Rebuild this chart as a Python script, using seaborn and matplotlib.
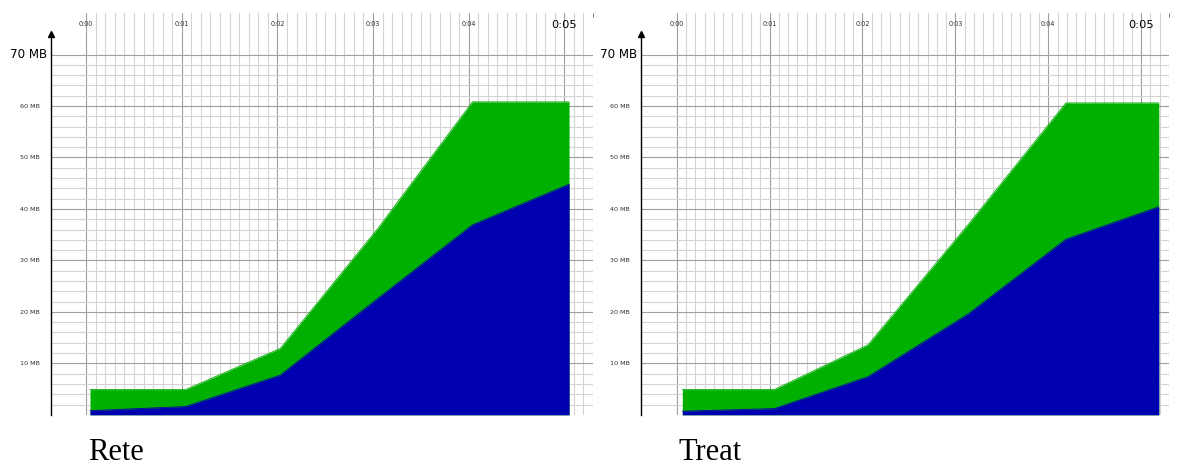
import numpy as np
import pandas as pd
import seaborn as sns
import matplotlib.pyplot as plt

# memory samples (seconds, MB)
rete_time = [0.04, 1.04, 2.03, 3.05, 4.04, 5.05]
rete_blue = [0.8, 1.6, 7.7, 22.6, 36.9, 44.8]
rete_total = [4.9, 4.9, 12.9, 36.2, 60.8, 60.8]

treat_time = [0.06, 1.05, 2.06, 3.14, 4.19, 5.19]
treat_blue = [0.7, 1.2, 7.4, 19.6, 34.1, 40.4]
treat_total = [4.9, 4.9, 13.6, 37.0, 60.6, 60.6]

time_labels = ['0:00', '0:01', '0:02', '0:03', '0:04', '0:05']
mb_ticks = [10, 20, 30, 40, 50, 60]

GREEN = '#00b000'
BLUE = '#0000b0'

sns.set_style('white')
plt.rcParams['font.family'] = ['DejaVu Sans']
plt.rcParams['text.color'] = 'black'

W, H = 1178, 466
fig = plt.figure(figsize=(W / 100, H / 100), dpi=100)


def panel(px_left, px_right, x_left, name, t, blue, total):
    bottom_px, top_px = 414.8, 13
    ax = fig.add_axes([px_left / W, (H - bottom_px) / H,
                       (px_right - px_left) / W, (bottom_px - top_px) / H])
    ymax = (bottom_px - top_px) / 5.147
    ax.set_xlim(x_left, 5.3)
    ax.set_ylim(0, ymax)

    # grid
    for v in np.arange(0, 5.31, 0.1):
        major = abs(v - round(v)) < 1e-6
        ax.vlines(v, 0, ymax, color='#a0a0a0' if major else '#d4d4d4',
                  lw=0.8, zorder=1)
    for h in range(2, 71, 2):
        ax.axhline(h, color='#a0a0a0' if h % 10 == 0 else '#d4d4d4',
                   lw=0.8, zorder=1)

    df = pd.DataFrame({'t': t, 'blue': blue, 'total': total})
    ax.fill_between(df['t'], 0, df['total'], color=GREEN, lw=0, zorder=2)
    ax.fill_between(df['t'], 0, df['blue'], color=BLUE, lw=0, zorder=3)
    sns.lineplot(data=df, x='t', y='total', color=GREEN, lw=0.6, ax=ax, zorder=2)
    sns.lineplot(data=df, x='t', y='blue', color=BLUE, lw=0.6, ax=ax, zorder=3)
    ax.set_xlabel('')
    ax.set_ylabel('')

    # spines
    for s in ['top', 'right', 'bottom']:
        ax.spines[s].set_visible(False)
    ax.spines['left'].set_color('black')
    ax.spines['left'].set_linewidth(1)
    ax.spines['left'].set_bounds(0, 74.0)
    ax.plot([x_left], [74.0], marker='^', color='black', ms=5,
            clip_on=False, zorder=5)

    # top ticks
    ax.xaxis.set_ticks_position('top')
    ax.set_xticks(range(6))
    ax.set_xticks(np.arange(0, 5.31, 0.1), minor=True)
    ax.tick_params(axis='x', which='both', direction='in', length=3,
                   width=0.7, color='#707070', labeltop=False, labelbottom=False)

    # y ticks
    ax.set_yticks(mb_ticks + [70])
    ax.set_yticklabels([f'{m} MB' for m in mb_ticks] + [''])
    ax.set_yticks(range(2, 71, 2), minor=True)
    ax.tick_params(axis='y', which='major', direction='out', length=3,
                   width=0.7, color='#303030', labelsize=4.6, pad=4.5,
                   labelcolor='#303030')
    ax.tick_params(axis='y', which='minor', direction='out', length=2,
                   width=0.7, color='#303030')
    ax.text(x_left, 70, '70 MB ', ha='right', va='center', fontsize=8.6,
            color='black')

    y_lab = (bottom_px - 23.5) / 5.147
    for i, lab in enumerate(time_labels):
        if i < 5:
            ax.text(i, y_lab, lab, ha='center', va='center', fontsize=4.7,
                    color='#303030', zorder=6)
        else:
            ax.text(i, (bottom_px - 25) / 5.147, lab, ha='center',
                    va='center', fontsize=8.2, color='black', zorder=6)

    fig.text((px_left + 38) / W, (H - 459.5) / H, name,
             family='Liberation Serif', fontsize=22, va='baseline',
             ha='left', color='black')
    return ax


panel(50.5, 593, -0.373, 'Rete', rete_time, rete_blue, rete_total)
panel(640.7, 1169, -0.388, 'Treat', treat_time, treat_blue, treat_total)

fig.savefig('out.png', dpi=100)
